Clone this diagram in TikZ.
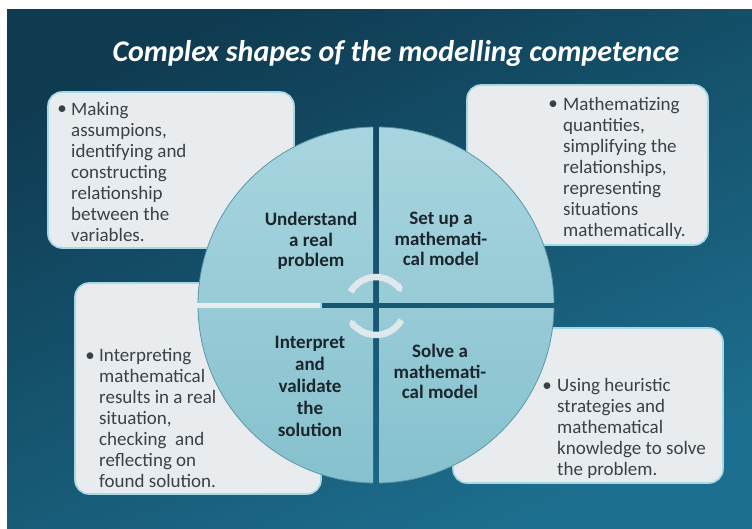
\documentclass[tikz,border=0pt]{standalone}
\usepackage{fontspec}
\setmainfont{Carlito}
\usetikzlibrary{arrows.meta}
\definecolor{bgtop}{HTML}{0F3B51}
\definecolor{bgbot}{HTML}{1D6F8F}
\definecolor{boxfill}{HTML}{E8ECEE}
\definecolor{boxedge}{HTML}{A6D9E3}
\definecolor{circtop}{HTML}{A8D5DF}
\definecolor{circbot}{HTML}{86C1CE}
\definecolor{circedge}{HTML}{5A97A8}
\definecolor{bodytext}{HTML}{3A4146}
\definecolor{quadtext}{HTML}{1B262C}
\definecolor{arrowc}{HTML}{DFE8EA}
\begin{document}
\begin{tikzpicture}[x=1pt,y=-1pt,
  infobox/.style={draw=boxedge, line width=1.6pt, fill=boxfill, rounded corners=14pt, inner sep=0pt},
  bodytxt/.style={anchor=north west, align=left, inner sep=0pt, text=bodytext, font=\fontsize{19}{21}\selectfont},
  bulletmark/.style={anchor=base, inner sep=0pt, text=bodytext, font=\fontsize{19}{21}\selectfont},
  quadtxt/.style={anchor=north, align=center, inner sep=0pt, text=quadtext, font=\bfseries\fontsize{19}{20.5}\selectfont},
  quadfill/.style={top color=circtop, bottom color=circbot, draw=circedge, line width=0.8pt},
  cyclearrow/.style={draw=arrowc, line width=6.5pt, -{Triangle Cap[]}},
]
\useasboundingbox (0,0) rectangle (752,529);
\fill[white] (0,0) rectangle (752,529);
\shade[top color=bgtop, bottom color=bgbot, shading angle=25] (7,10) rectangle (752,529);

% title
\node[font=\bfseries\itshape\fontsize{30}{33}\selectfont, text=white, anchor=base, inner sep=0pt] (title) at (396,62) {Complex shapes of the modelling competence};

% boxes
\node[infobox, minimum width=246pt, minimum height=156pt] (boxUL) at (171,170) {};
\node[infobox, minimum width=241pt, minimum height=160pt] (boxUR) at (587.5,165) {};
\node[infobox, minimum width=246pt, minimum height=211pt] (boxLL) at (198,388.5) {};
\node[infobox, minimum width=270pt, minimum height=155pt] (boxLR) at (588,405.5) {};

% circle quadrants
\coordinate (ctr) at (376,305);
\begin{scope}
  \clip (373,302) rectangle (150,100);
  \shade[quadfill] (ctr) circle (178);
\end{scope}
\begin{scope}
  \clip (379,302) rectangle (600,100);
  \shade[quadfill] (ctr) circle (178);
\end{scope}
\begin{scope}
  \clip (373,308) rectangle (150,520);
  \shade[quadfill] (ctr) circle (178);
\end{scope}
\begin{scope}
  \clip (379,308) rectangle (600,520);
  \shade[quadfill] (ctr) circle (178);
\end{scope}

% cycle arrows
\coordinate (arrC) at (376,306);
\draw[cyclearrow] (arrC) ++(209:29) arc[start angle=209, end angle=331, radius=29];
\draw[cyclearrow] (arrC) ++(29:29) arc[start angle=29, end angle=151, radius=29];

% quadrant labels
\node[quadtxt] (q1) at (311,212) {Understand\\a real\\problem};
\node[quadtxt] (q2) at (441,212) {Set up a\\mathemati-\\cal model};
\node[quadtxt, font=\bfseries\fontsize{19}{22}\selectfont] (q3) at (310,336) {Interpret\\and\\validate\\the\\solution};
\node[quadtxt] (q4) at (440,344) {Solve a\\mathemati-\\cal model};

% box texts
\node[bulletmark] (b1) at (62,115) {•};
\node[bodytxt] (t1) at (71,102.5) {Making\\assumpions,\\identifying and\\constructing\\relationship\\between the\\variables.};
\node[bulletmark] (b2) at (553,110) {•};
\node[bodytxt] (t2) at (563,97) {Mathematizing\\quantities,\\simplifying the\\relationships,\\representing\\situations\\mathematically.};
\node[bulletmark] (b3) at (90,361) {•};
\node[bodytxt] (t3) at (99,348) {Interpreting\\mathematical\\results in a real\\situation,\\checking~ and\\reflecting on\\found solution.};
\node[bulletmark] (b4) at (547,391) {•};
\node[bodytxt] (t4) at (557,378) {Using heuristic\\strategies and\\mathematical\\knowledge to solve\\the problem.};
\end{tikzpicture}
\end{document}
